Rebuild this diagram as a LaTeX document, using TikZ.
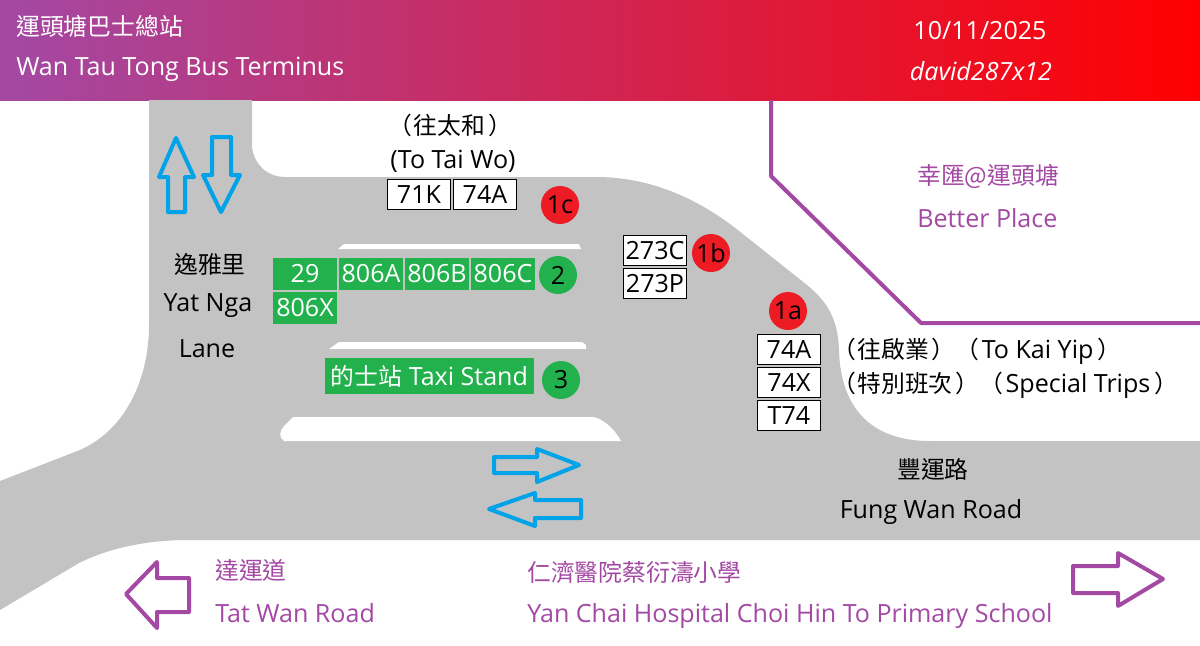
\documentclass[tikz,border=0pt]{standalone}
\usepackage{fontspec}
\setmainfont{Open Sans}
\newfontfamily\cjk[Scale=0.95]{Noto Sans CJK TC}
\usepackage{xcolor}
\usepackage{tikz}
\usetikzlibrary{positioning}
\definecolor{roadgray}{HTML}{C3C3C3}
\definecolor{plumline}{HTML}{A349A4}
\definecolor{skyline}{HTML}{00A2E8}
\definecolor{standgreen}{HTML}{22B14C}
\definecolor{stopred}{HTML}{ED1C24}

\begin{document}
\begin{tikzpicture}[
  x=0.75pt,y=-0.75pt,
  every node/.style={font=\fontsize{18.8}{20}\selectfont},
  label/.style={inner sep=0pt, text=black},
  plumlabel/.style={label, text=plumline},
  routebox/.style={rectangle, draw=black, line width=0.75pt, fill=white, minimum width=47pt,
    minimum height=22.5pt, inner sep=0pt},
  greenbox/.style={rectangle, fill=standgreen, text=white, minimum width=48pt,
    minimum height=24pt, inner sep=0pt},
  stopdot/.style={circle, minimum size=28.5pt, inner sep=0pt, text=black},
  reddot/.style={stopdot, fill=stopred},
  greendot/.style={stopdot, fill=standgreen},
  flowarrow/.style={draw=skyline, line width=3pt, line join=round},
  dirarrow/.style={draw=plumline, line width=3pt, line join=round}
]
  \useasboundingbox (0,0) rectangle (1200,646);
  \fill[white] (0,0) rectangle (1200,646);

  \shade[left color=plumline, right color=red] (0,0) rectangle (1200,100);

  \fill[roadgray] (149,100) -- (252,100) -- (252,147)
    .. controls (254,165) and (268,177) .. (285,177) -- (600,177)
    .. controls (640,178) and (685,190) .. (734,227) -- (807,285)
    .. controls (828,302) and (838,320) .. (839,350)
    .. controls (840,395) and (860,441) .. (930,441)
    -- (1200,441) -- (1200,540) -- (182,540)
    .. controls (140,541) and (105,550) .. (79,563) -- (0,610) -- (0,481) -- (80,450)
    .. controls (125,430) and (149,380) .. (149,325) -- cycle;

  \fill[white] (338,249) -- (344,244) -- (579,244) -- (581,249) -- cycle;
  \fill[white] (329,349) -- (339,342) -- (582,342) -- (586,345) -- (586,349) -- cycle;
  \fill[white] (284,441) .. controls (279,438) and (279,431) .. (284,426) -- (293,417) -- (594,417)
    .. controls (605,420) and (615,430) .. (621,441) -- cycle;

  \draw[plumline, line width=3pt, line join=round] (771,100) -- (771,176) -- (921,323) -- (1200,323);

  \draw[flowarrow] (176,138) -- (194,177) -- (185,177) -- (185,212) -- (168,212) -- (168,177) -- (159,177) -- cycle;
  \draw[flowarrow] (212,137) -- (231,137) -- (231,175) -- (240,175) -- (221,212) -- (203,175) -- (212,175) -- cycle;
  \draw[flowarrow] (494,457) -- (537,457) -- (537,449) -- (579,465) -- (537,482) -- (537,473) -- (494,473) -- cycle;
  \draw[flowarrow] (581,500) -- (535,500) -- (535,493) -- (489,509) -- (535,526) -- (535,518) -- (581,518) -- cycle;
  \draw[dirarrow] (126,594) -- (157,562) -- (157,578) -- (189,578) -- (189,612) -- (157,612) -- (157,628) -- cycle;
  \draw[dirarrow] (1073,566) -- (1118,566) -- (1118,553) -- (1163,579) -- (1118,606) -- (1118,593) -- (1073,593) -- cycle;

  \node[label, text=white, anchor=west] (titlezh) at (16,26) {\cjk 運頭塘巴士總站};
  \node[label, text=white, anchor=west] (titleen) at (16,69) {Wan Tau Tong Bus Terminus};
  \node[label, text=white] (datetext) at (980,31) {10/11/2025};
  \node[label, text=white] (authortext) at (981,71) {\itshape david287x12};

  \node[label] (taiwozh) at (450,125) {\cjk （\hspace{1.5pt}往太和\hspace{2pt}）};
  \node[label] (taiwoen) at (453,161) {(To Tai Wo)};
  \node[routebox] (r71K) at (419,194.5) {71K};
  \node[routebox] (r74Atw) at (485,194.5) {74A};
  \node[reddot] (stop1c) at (560,205) {1c};

  \node[label] (yatzh) at (210,264) {\cjk 逸雅里};
  \node[label] (yaten) at (208,306) {Yat Nga};
  \node[label] (yatlane) at (207,349) {Lane};

  \node[greenbox] (r29) at (305,274) {29};
  \node[greenbox] (r806A) at (371,274) {806A};
  \node[greenbox] (r806B) at (437,274) {806B};
  \node[greenbox] (r806C) at (503,274) {806C};
  \node[greenbox] (r806X) at (305,308) {806X};
  \node[greendot] (stop2) at (558,275) {2};
  \node[greenbox, minimum width=156.75pt, minimum height=27pt] (taxi) at (429.5,376) {{\cjk 的士站} Taxi Stand};
  \node[greendot] (stop3) at (561,380) {3};

  \node[routebox] (r273C) at (655,250.5) {273C};
  \node[routebox] (r273P) at (655,283.5) {273P};
  \node[reddot] (stop1b) at (711,253) {1b};

  \node[reddot] (stop1a) at (788,311) {1a};
  \node[routebox] (r74A) at (789,349.5) {74A};
  \node[routebox] (r74X) at (789,382.5) {74X};
  \node[routebox] (rT74) at (789,415.5) {T74};
  \node[label, anchor=west] (kaiyip) at (832,351) {{\cjk （\hspace{1pt}往啟業\hspace{2pt}）（}\hspace{2pt}To Kai Yip\hspace{3pt}{\cjk ）}};
  \node[label, anchor=west] (special) at (832,385) {{\cjk （\hspace{1pt}特別班次\hspace{2pt}）（}\hspace{2pt}Special Trips\hspace{3pt}{\cjk ）}};

  \node[plumlabel, anchor=west] (placezh) at (917,176) {\cjk 幸匯@運頭塘};
  \node[plumlabel, anchor=west] (placeen) at (917,218) {Better Place};

  \node[label] (fungzh) at (933,469) {\cjk 豐運路};
  \node[label] (fungen) at (931,512) {Fung Wan Road};

  \node[plumlabel, anchor=west] (tatzh) at (215,570) {\cjk 達運道};
  \node[plumlabel, anchor=west] (taten) at (215,613) {Tat Wan Road};
  \node[plumlabel, anchor=west] (schoolzh) at (527,572) {\cjk 仁濟醫院蔡衍濤小學};
  \node[plumlabel, anchor=west] (schoolen) at (527,616) {Yan Chai Hospital Choi Hin To Primary School};
\end{tikzpicture}
\end{document}
